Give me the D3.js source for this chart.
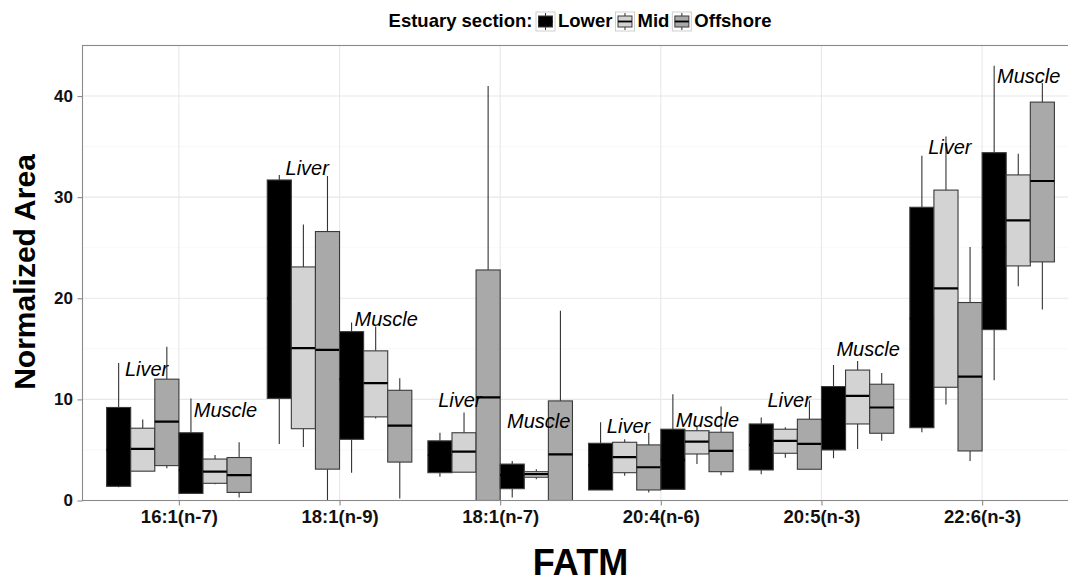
<!DOCTYPE html>
<html>
<head>
<meta charset="utf-8">
<script src="https://cdn.jsdelivr.net/npm/d3@7"></script>
<style>
  html, body { margin: 0; padding: 0; background: #fff; }
  svg { display: block; font-family: "Liberation Sans", Arial, sans-serif; }
</style>
</head>
<body>
<svg id="chart" width="1068" height="581"></svg>
<script>
// Fatty acid trophic markers by estuary section and tissue.
const groups = ["16:1(n-7)", "18:1(n-9)", "18:1(n-7)", "20:4(n-6)", "20:5(n-3)", "22:6(n-3)"];
const sections = ["Lower", "Mid", "Offshore"];
const tissues = ["Liver", "Muscle"];
const yTicks = [0, 10, 20, 30, 40];

// five-number summaries per marker: [min, q1, median, q3, max]
const liverLower = [
  [1.3, 1.4, 5.0, 9.2, 13.6], [5.6, 10.1, 20.0, 31.7, 32.2], [2.35, 2.75, 4.5, 5.9, 6.7],
  [1.04, 1.04, 3.5, 5.66, 7.74], [2.6, 3.02, 5.5, 7.57, 8.2], [6.75, 7.2, 18.0, 29.0, 34.1]
];
const liverMid = [
  [2.9, 2.9, 5.1, 7.15, 8.0], [5.3, 7.1, 15.07, 23.1, 27.3], [2.8, 2.8, 4.83, 6.7, 8.7],
  [2.46, 2.75, 4.28, 5.76, 6.06], [4.24, 4.67, 5.9, 7.05, 7.25], [9.5, 11.2, 20.97, 30.7, 36.0]
];
const liverOffshore = [
  [3.2, 3.45, 7.8, 12.0, 15.2], [0, 3.1, 14.9, 26.6, 32.1], [0, 0, 10.2, 22.8, 41.0],
  [0.8, 1.04, 3.29, 5.5, 6.7], [3.09, 3.09, 5.6, 8.04, 9.9], [3.9, 4.9, 12.26, 19.58, 25.07]
];
const muscleLower = [
  [0.7, 0.7, 3.0, 6.7, 10.1], [2.75, 6.05, 12.0, 16.7, 17.6], [0.3, 1.17, 2.5, 3.6, 3.9],
  [1.1, 1.1, 4.0, 7.05, 10.5], [4.18, 5.0, 8.0, 11.27, 13.4], [11.9, 16.9, 25.0, 34.4, 43.0]
];
const muscleMid = [
  [1.6, 1.7, 2.85, 4.1, 4.5], [8.1, 8.27, 11.6, 14.8, 17.2], [2.1, 2.3, 2.6, 2.85, 3.1],
  [3.6, 4.6, 5.82, 6.9, 7.4], [5.1, 7.57, 10.35, 12.9, 13.8], [21.2, 23.2, 27.7, 32.2, 34.3]
];
const muscleOffshore = [
  [0.3, 0.8, 2.5, 4.25, 5.75], [0.2, 3.8, 7.4, 10.9, 12.1], [0, 0, 4.57, 9.85, 18.76],
  [2.5, 2.85, 4.9, 6.75, 9.3], [5.9, 6.65, 9.2, 11.5, 12.6], [18.9, 23.6, 31.6, 39.4, 41.3]
];

// tissue annotations: baseline height (data units) and horizontal nudge (in category steps)
const liverLabelY = [12.3, 32.2, 9.2, 6.65, 9.2, 34.3];
const muscleLabelY = [8.3, 17.3, 7.2, 7.3, 14.3, 41.3];
const labelNudge = [0, 0, -0.05, 0, 0, 0];

const fills = { Lower: "#000000", Mid: "#d3d3d3", Offshore: "#a9a9a9" };

const series = [
  { tissue: "Liver", section: "Lower", stats: liverLower },
  { tissue: "Liver", section: "Mid", stats: liverMid },
  { tissue: "Liver", section: "Offshore", stats: liverOffshore },
  { tissue: "Muscle", section: "Lower", stats: muscleLower },
  { tissue: "Muscle", section: "Mid", stats: muscleMid },
  { tissue: "Muscle", section: "Offshore", stats: muscleOffshore }
];

const svg = d3.select("#chart");
const panel = { left: 82.5, right: 1078.5, top: 45.5, bottom: 500.5 };

const x = d3.scalePoint().domain(groups).range([panel.left, panel.right]).padding(0.6);
const y = d3.scaleLinear().domain([0, 45]).range([panel.bottom, panel.top]);
const dodge = x.step() * 0.9 / series.length;

svg.append("defs").append("clipPath").attr("id", "panel-clip")
  .append("rect")
  .attr("x", panel.left).attr("y", panel.top)
  .attr("width", panel.right - panel.left).attr("height", panel.bottom - panel.top);

// panel background and grid
svg.append("rect")
  .attr("x", panel.left).attr("y", panel.top)
  .attr("width", panel.right - panel.left).attr("height", panel.bottom - panel.top)
  .attr("fill", "#ffffff");

const grid = svg.append("g");
const minorTicks = d3.range(5, 45, 10);
grid.selectAll(".minor").data(minorTicks).join("line")
  .attr("x1", panel.left).attr("x2", panel.right)
  .attr("y1", d => y(d)).attr("y2", d => y(d))
  .attr("stroke", "#f3f3f3").attr("stroke-width", 0.6);
grid.selectAll(".major").data(yTicks).join("line")
  .attr("x1", panel.left).attr("x2", panel.right)
  .attr("y1", d => y(d)).attr("y2", d => y(d))
  .attr("stroke", "#e8e8e8").attr("stroke-width", 1.1);
grid.selectAll(".vmajor").data(groups).join("line")
  .attr("x1", d => x(d)).attr("x2", d => x(d))
  .attr("y1", panel.top).attr("y2", panel.bottom)
  .attr("stroke", "#e8e8e8").attr("stroke-width", 1.1);

// boxplots
const plot = svg.append("g").attr("clip-path", "url(#panel-clip)");
series.forEach((s, si) => {
  const offset = (si - (series.length - 1) / 2) * dodge;
  const g = plot.append("g");
  const rows = s.stats.map((st, gi) => ({ group: groups[gi], min: st[0], q1: st[1], med: st[2], q3: st[3], max: st[4] }));
  const cx = d => x(d.group) + offset;

  g.selectAll(".whisk-hi").data(rows).join("line")
    .attr("x1", cx).attr("x2", cx)
    .attr("y1", d => y(d.q3)).attr("y2", d => y(d.max))
    .attr("stroke", "#333").attr("stroke-width", 1.1);
  g.selectAll(".whisk-lo").data(rows).join("line")
    .attr("x1", cx).attr("x2", cx)
    .attr("y1", d => y(d.q1)).attr("y2", d => y(d.min))
    .attr("stroke", "#333").attr("stroke-width", 1.1);
  g.selectAll(".box").data(rows).join("rect")
    .attr("x", d => cx(d) - dodge / 2)
    .attr("y", d => y(d.q3))
    .attr("width", dodge)
    .attr("height", d => y(d.q1) - y(d.q3))
    .attr("fill", fills[s.section])
    .attr("stroke", "#3a3a3a").attr("stroke-width", 1.1);
  g.selectAll(".median").data(rows).join("line")
    .attr("x1", d => cx(d) - dodge / 2).attr("x2", d => cx(d) + dodge / 2)
    .attr("y1", d => y(d.med)).attr("y2", d => y(d.med))
    .attr("stroke", "#000").attr("stroke-width", 2.2);
});

// tissue annotations
const labels = [];
groups.forEach((gname, gi) => {
  labels.push({ text: "Liver", x: x(gname) + (-0.336 + labelNudge[gi]) * x.step(), y: y(liverLabelY[gi]) });
  labels.push({ text: "Muscle", x: x(gname) + (0.093 + labelNudge[gi]) * x.step(), y: y(muscleLabelY[gi]) });
});
svg.append("g").selectAll("text").data(labels).join("text")
  .attr("x", d => d.x).attr("y", d => d.y)
  .attr("font-size", 20).attr("font-style", "italic")
  .attr("fill", "#000")
  .text(d => d.text);

// panel border
svg.append("rect")
  .attr("x", panel.left).attr("y", panel.top)
  .attr("width", panel.right - panel.left).attr("height", panel.bottom - panel.top)
  .attr("fill", "none").attr("stroke", "#8a8a8a").attr("stroke-width", 1.1);

// y axis
const yAxis = svg.append("g").attr("transform", `translate(${panel.left},0)`)
  .call(d3.axisLeft(y).tickValues(yTicks).tickSize(5).tickPadding(4.5));
yAxis.select(".domain").remove();
yAxis.selectAll(".tick line").attr("stroke", "#8a8a8a").attr("stroke-width", 1.1);
yAxis.selectAll(".tick text")
  .attr("font-size", 17).attr("font-weight", "bold").attr("fill", "#111")
  .attr("font-family", "Liberation Sans, Arial, sans-serif");

// x axis
const xAxis = svg.append("g").attr("transform", `translate(0,${panel.bottom})`)
  .call(d3.axisBottom(x).tickSize(5).tickPadding(4));
xAxis.select(".domain").remove();
xAxis.selectAll(".tick line").attr("stroke", "#8a8a8a").attr("stroke-width", 1.1);
xAxis.selectAll(".tick text")
  .attr("font-size", 18.5).attr("font-weight", "bold").attr("fill", "#111")
  .attr("font-family", "Liberation Sans, Arial, sans-serif");

// axis titles
svg.append("text")
  .attr("x", (panel.left + panel.right) / 2).attr("y", 574.5)
  .attr("text-anchor", "middle")
  .attr("font-size", 36).attr("font-weight", "bold")
  .text("FATM");
svg.append("text")
  .attr("transform", `translate(35,${(panel.top + panel.bottom) / 2 - 1}) rotate(-90)`)
  .attr("text-anchor", "middle")
  .attr("font-size", 30).attr("font-weight", "bold")
  .text("Normalized Area");

// legend
const legend = svg.append("g");
let lx = 0;
const title = legend.append("text")
  .attr("x", lx).attr("y", 26.5)
  .attr("font-size", 18.5).attr("font-weight", "bold")
  .text("Estuary section:");
lx += title.node().getComputedTextLength() + 3;
sections.forEach(sec => {
  const key = legend.append("g").attr("transform", `translate(${lx},11.5)`);
  key.append("rect").attr("x", 0.5).attr("y", 0.5).attr("width", 19).attr("height", 19)
    .attr("fill", "#fff").attr("stroke", "#cfcfcf").attr("stroke-width", 1);
  key.append("line").attr("x1", 10).attr("x2", 10).attr("y1", 1.5).attr("y2", 18.5)
    .attr("stroke", "#333").attr("stroke-width", 1);
  key.append("rect").attr("x", 3).attr("y", 4.5).attr("width", 14).attr("height", 11)
    .attr("fill", fills[sec]).attr("stroke", "#3a3a3a").attr("stroke-width", 1);
  key.append("line").attr("x1", 3).attr("x2", 17).attr("y1", 10).attr("y2", 10)
    .attr("stroke", "#000").attr("stroke-width", 1.8);
  lx += 20 + 2.5;
  const t = legend.append("text")
    .attr("x", lx).attr("y", 26.5)
    .attr("font-size", 18.5).attr("font-weight", "bold")
    .text(sec);
  lx += t.node().getComputedTextLength() + 2.5;
});
const lb = legend.node().getBBox();
legend.attr("transform", `translate(${580 - (lb.x + lb.width / 2)},0)`);
</script>
</body>
</html>
